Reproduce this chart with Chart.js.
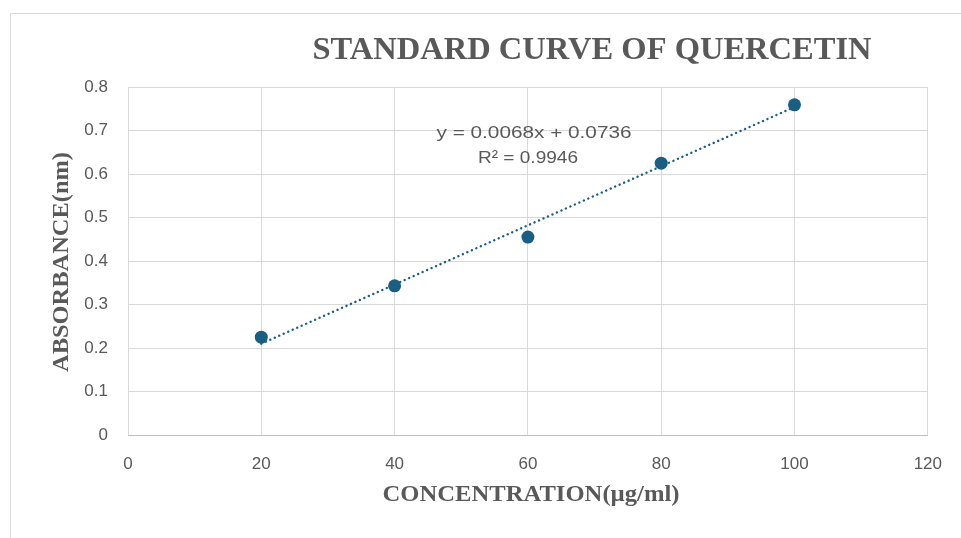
<!DOCTYPE html>
<html>
<head>
<meta charset="utf-8">
<script src="https://cdn.jsdelivr.net/npm/chart.js@4/dist/chart.umd.min.js"></script>
<style>
  html, body { margin: 0; padding: 0; background: #fff; }
  #wrap { position: relative; width: 961px; height: 538px; }
</style>
</head>
<body>
<div id="wrap"><canvas id="chart" width="961" height="538"></canvas></div>
<script>
// --- data ---
const concentration = [20, 40, 60, 80, 100];
const absorbance = [0.225, 0.343, 0.455, 0.625, 0.759];
const trendX = [20, 100];
const trendY = [0.21, 0.754];
const xTicks = [0, 20, 40, 60, 80, 100, 120];
const yTicks = [0, 0.1, 0.2, 0.3, 0.4, 0.5, 0.6, 0.7, 0.8];
const equationLines = ['y = 0.0068x + 0.0736', 'R² = 0.9946'];

const titleText = 'STANDARD CURVE OF QUERCETIN';
const xTitle = 'CONCENTRATION(µg/ml)';
const yTitle = 'ABSORBANCE(nm)';

const markColor = '#1a5f82';
const textColor = '#595959';
const gridColor = '#d9d9d9';

// draw text squeezed/stretched to a given width
const fitText = (ctx, text, cx, cy, width, font, angle) => {
    ctx.save();
    ctx.font = font;
    const w = ctx.measureText(text).width;
    ctx.translate(cx, cy);
    if (angle) ctx.rotate(angle);
    ctx.scale(width / w, 1);
    ctx.textAlign = 'center';
    ctx.textBaseline = 'middle';
    ctx.fillStyle = textColor;
    ctx.fillText(text, 0, 0);
    ctx.restore();
};

const decorations = {
    id: 'decorations',
    beforeDraw(chart) {
        const ctx = chart.ctx;
        ctx.save();
        ctx.fillStyle = '#fff';
        ctx.fillRect(0, 0, chart.width, chart.height);
        ctx.strokeStyle = gridColor;
        ctx.lineWidth = 1;
        ctx.strokeRect(10.5, 13.5, 1000, 600);
        ctx.restore();
    },
    afterDraw(chart) {
        const ctx = chart.ctx;
        fitText(ctx, titleText, 592, 51, 559, 'bold 31px "Liberation Serif"');
        fitText(ctx, xTitle, 531, 495, 297, 'bold 24px "Liberation Serif"');
        fitText(ctx, yTitle, 62, 262, 220, 'bold 24px "Liberation Serif"', -Math.PI / 2);
        fitText(ctx, equationLines[0], 534, 133, 195, '17px "Liberation Sans"');
        fitText(ctx, equationLines[1], 528, 158, 100, '17px "Liberation Sans"');
    }
};

new Chart(document.getElementById('chart'), {
    type: 'scatter',
    data: {
        datasets: [
            {
                type: 'line',
                data: trendX.map((x, i) => ({ x, y: trendY[i] })),
                borderColor: markColor,
                borderWidth: 2.4,
                borderDash: [0.1, 4.8],
                borderCapStyle: 'round',
                pointRadius: 0,
                fill: false,
                order: 2
            },
            {
                data: concentration.map((x, i) => ({ x, y: absorbance[i] })),
                backgroundColor: markColor,
                borderColor: markColor,
                pointRadius: 6.5,
                pointBorderWidth: 0,
                order: 1
            }
        ]
    },
    options: {
        responsive: false,
        animation: false,
        layout: { padding: { left: 20, right: 30, top: 87, bottom: 0 } },
        plugins: { legend: { display: false }, tooltip: { enabled: false } },
        scales: {
            x: {
                type: 'linear',
                min: 0, max: 120,
                afterBuildTicks: s => { s.ticks = xTicks.map(v => ({ value: v })); },
                afterFit: s => { s.height = 103; },
                grid: { color: gridColor, drawTicks: false },
                border: { color: '#bfbfbf' },
                ticks: { color: textColor, padding: 19, font: { family: '"Liberation Sans"', size: 17 } }
            },
            y: {
                min: 0, max: 0.8,
                afterBuildTicks: s => { s.ticks = yTicks.map(v => ({ value: v })); },
                afterFit: s => { s.width = 108; },
                grid: { color: gridColor, drawTicks: false },
                border: { display: false },
                ticks: {
                    color: textColor, padding: 20,
                    font: { family: '"Liberation Sans"', size: 17 },
                    callback: v => String(Math.round(v * 10) / 10)
                }
            }
        }
    },
    plugins: [decorations]
});
</script>
</body>
</html>
